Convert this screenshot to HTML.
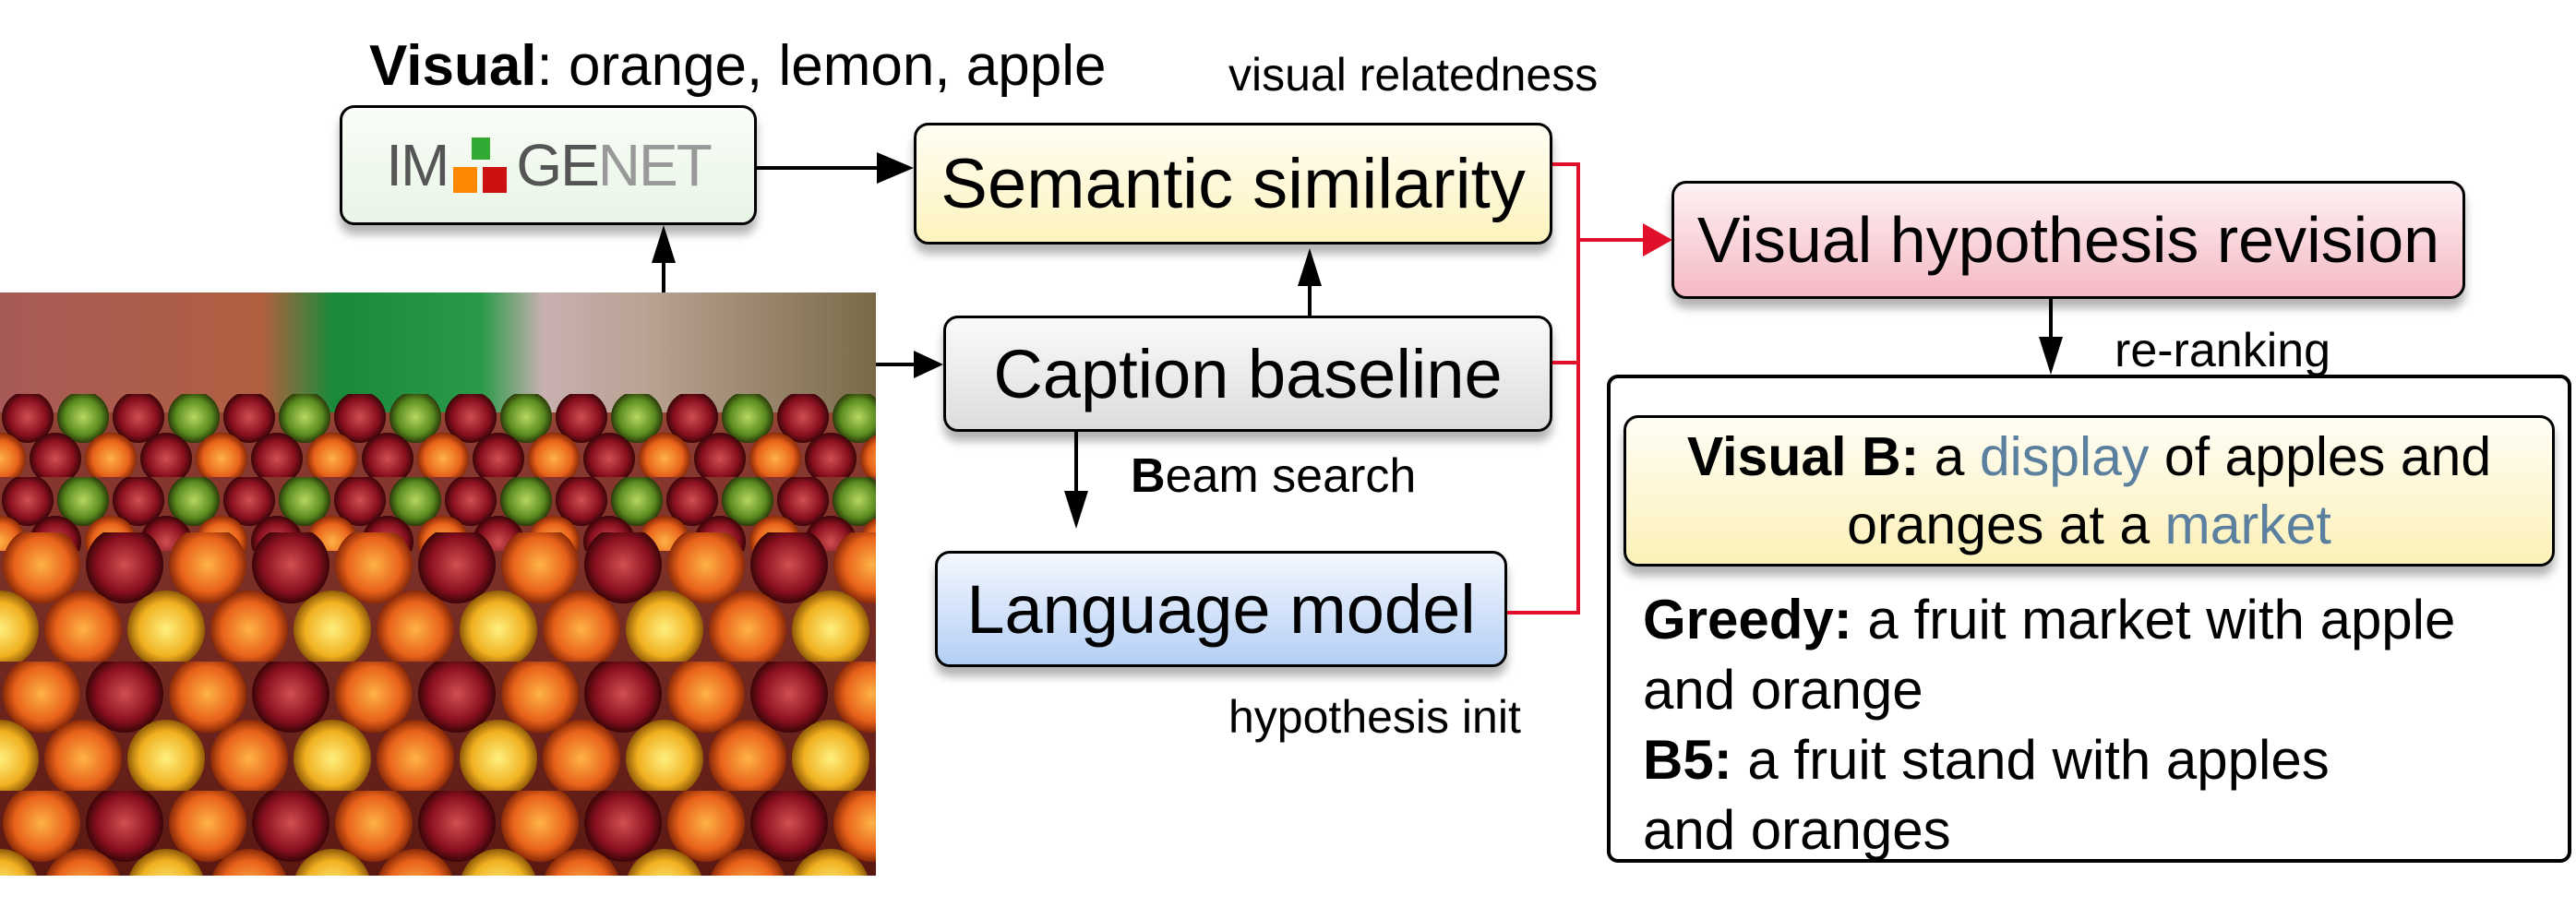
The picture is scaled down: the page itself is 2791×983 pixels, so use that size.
<!DOCTYPE html>
<html><head><meta charset="utf-8"><style>
body{margin:0;width:2791px;height:983px;background:#fff;position:relative;overflow:hidden;font-family:"Liberation Sans",Arial,sans-serif;color:#000}
.a{position:absolute}
.box{position:absolute;border:3px solid #000;border-radius:16px;box-sizing:border-box;box-shadow:0 10px 10px rgba(0,0,0,.3);display:flex;align-items:center;justify-content:center;white-space:nowrap}
.t{position:absolute;white-space:nowrap}
</style></head><body>
<div class="t" style="left:400px;top:36px;font-size:62px"><b>Visual</b>: orange, lemon, apple</div>
<div class="t" style="left:1331px;top:52px;font-size:50px">visual relatedness</div>

<div class="box" style="left:368px;top:114px;width:452px;height:130px;background:linear-gradient(#fafdf8,#e8f5e6);font-size:64px;color:#555;letter-spacing:-2px">IM<span style="display:inline-block;width:62px;height:60px;position:relative;margin:0 6px"><span class="a" style="left:20px;top:0;width:20px;height:24px;background:#3a3"></span><span class="a" style="left:0;top:32px;width:26px;height:28px;background:#f80"></span><span class="a" style="left:32px;top:32px;width:26px;height:28px;background:#c11"></span></span>GE<span style="color:#999">NET</span></div>

<div class="box" style="left:990px;top:133px;width:692px;height:132px;background:linear-gradient(#fffdf4,#fdf3bd);font-size:76px">Semantic similarity</div>
<div class="box" style="left:1022px;top:342px;width:660px;height:126px;background:linear-gradient(#fafafa,#dcdcdc);font-size:74px">Caption baseline</div>
<div class="box" style="left:1013px;top:597px;width:620px;height:126px;background:linear-gradient(#f4f7fe,#b4cff5);font-size:74px">Language model</div>
<div class="box" style="left:1811px;top:196px;width:860px;height:128px;background:linear-gradient(#fdf2f4,#f5b9c3);font-size:70px">Visual hypothesis revision</div>

<div class="t" style="left:1225px;top:486px;font-size:52px"><b>B</b>eam search</div>
<div class="t" style="left:1331px;top:748px;font-size:50px">hypothesis init</div>
<div class="t" style="left:2291px;top:350px;font-size:52px">re-ranking</div>

<div class="a" style="left:1741px;top:406px;width:1045px;height:529px;border:4px solid #000;border-radius:12px;box-sizing:border-box"></div>
<div class="box" style="left:1759px;top:450px;width:1009px;height:164px;background:linear-gradient(#fffdf5,#fcf1b8);font-size:59px;flex-direction:column;line-height:74px"><div><b>Visual B:</b> a <span style="color:#5b7f9e">display</span> of apples and</div><div>oranges at a <span style="color:#5b7f9e">market</span></div></div>
<div class="t" style="left:1780px;top:634px;font-size:60px;line-height:76px"><b>Greedy:</b> a fruit market with apple<br>and orange<br><b>B5:</b> a fruit stand with apples<br>and oranges</div>

<svg class="a" style="left:0;top:0" width="2791" height="983">
<g stroke="#000" stroke-width="4" fill="none">
<line x1="820" y1="182" x2="975" y2="182"/><path d="M950,165L990,182L950,199z" fill="#000" stroke="none"/>
<line x1="719" y1="317" x2="719" y2="280"/><path d="M706,285L719,244L732,285z" fill="#000" stroke="none"/>
<line x1="1419" y1="342" x2="1419" y2="305"/><path d="M1406,310L1419,269L1432,310z" fill="#000" stroke="none"/>
<line x1="949" y1="395" x2="1000" y2="395"/><path d="M990,380L1022,395L990,410z" fill="#000" stroke="none"/>
<line x1="1166" y1="468" x2="1166" y2="540"/><path d="M1153,532L1166,573L1179,532z" fill="#000" stroke="none"/>
<line x1="2222" y1="324" x2="2222" y2="372"/><path d="M2209,365L2222,406L2235,365z" fill="#000" stroke="none"/>
</g>
<g stroke="#e0102a" stroke-width="4" fill="none">
<polyline points="1682,178 1710,178 1710,664 1633,664"/>
<line x1="1682" y1="393" x2="1710" y2="393"/>
<line x1="1710" y1="260" x2="1790" y2="260"/>
</g>
<path d="M1780,242L1812,260L1780,278z" fill="#e0102a"/>
</svg>

<svg class="a" style="left:0;top:317px" width="949" height="632">
<defs>
<linearGradient id="bg" x1="0" y1="0" x2="0" y2="1"><stop offset="0" stop-color="#b84"/><stop offset=".25" stop-color="#8a3a30"/><stop offset="1" stop-color="#5a1812"/></linearGradient>
<linearGradient id="tp" x1="0" y1="0" x2="1" y2="0"><stop offset="0" stop-color="#a85a58"/><stop offset=".3" stop-color="#b06040"/><stop offset=".38" stop-color="#1a8a3a"/><stop offset=".55" stop-color="#2a9a4a"/><stop offset=".62" stop-color="#c8b0b0"/><stop offset=".75" stop-color="#b8a090"/><stop offset="1" stop-color="#7a6a48"/></linearGradient>
<radialGradient id="o"><stop offset="0" stop-color="#ffb347"/><stop offset=".7" stop-color="#e8621a"/><stop offset="1" stop-color="#8a2a08"/></radialGradient>
<radialGradient id="y"><stop offset="0" stop-color="#fff080"/><stop offset=".7" stop-color="#f0b020"/><stop offset="1" stop-color="#905a08"/></radialGradient>
<radialGradient id="r"><stop offset="0" stop-color="#d05050"/><stop offset=".7" stop-color="#8a1020"/><stop offset="1" stop-color="#3a0508"/></radialGradient>
<radialGradient id="g"><stop offset="0" stop-color="#b8d860"/><stop offset=".7" stop-color="#5a8a20"/><stop offset="1" stop-color="#2a3a08"/></radialGradient>
<pattern id="p1" x="0" y="260" width="180" height="140" patternUnits="userSpaceOnUse"><circle cx="45" cy="35" r="42" fill="url(#o)"/><circle cx="135" cy="35" r="42" fill="url(#r)"/><circle cx="0" cy="105" r="42" fill="url(#y)"/><circle cx="90" cy="105" r="42" fill="url(#o)"/><circle cx="180" cy="105" r="42" fill="url(#y)"/></pattern>
<pattern id="p2" x="0" y="110" width="120" height="90" patternUnits="userSpaceOnUse"><circle cx="30" cy="25" r="28" fill="url(#r)"/><circle cx="90" cy="25" r="28" fill="url(#g)"/><circle cx="0" cy="70" r="28" fill="url(#o)"/><circle cx="60" cy="70" r="28" fill="url(#r)"/><circle cx="120" cy="70" r="28" fill="url(#o)"/></pattern>
</defs>
<rect width="949" height="632" fill="url(#bg)"/>
<rect x="0" y="0" width="949" height="130" fill="url(#tp)"/>
<rect x="0" y="110" width="949" height="170" fill="url(#p2)"/>
<rect x="0" y="260" width="949" height="372" fill="url(#p1)"/>
</svg>
</body></html>
